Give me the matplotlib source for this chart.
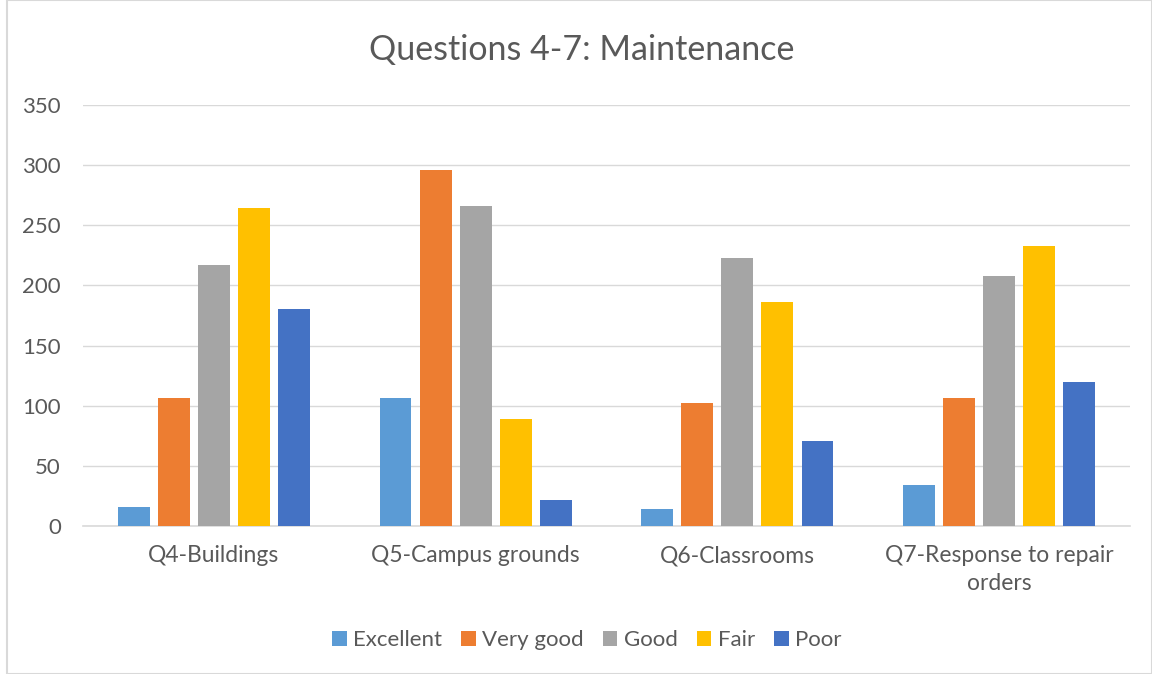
import numpy as np
import matplotlib.pyplot as plt
from matplotlib.patches import Rectangle

categories = ['Q4-Buildings', 'Q5-Campus grounds', 'Q6-Classrooms', 'Q7-Response to repair\norders']
series = ['Excellent', 'Very good', 'Good', 'Fair', 'Poor']
excellent = [16, 106, 14, 34]
very_good = [106, 296, 102, 106]
good = [217, 266, 223, 208]
fair = [264, 89, 186, 233]
poor = [180, 22, 71, 120]
colors = ['#5B9BD5', '#ED7D31', '#A5A5A5', '#FFC000', '#4472C4']

plt.rcParams['font.family'] = ['Lato', 'DejaVu Sans']
text_color = '#595959'

fig = plt.figure(figsize=(11.52, 6.74), dpi=100)
ax = fig.add_axes([83 / 1152, 1 - 526 / 674, (1130 - 83) / 1152, (526 - 105) / 674])

x = np.arange(len(categories))
step = 0.153
width = 0.122
values = [excellent, very_good, good, fair, poor]
for i, (name, vals, col) in enumerate(zip(series, values, colors)):
    ax.bar(x + (i - 2) * step, vals, width, color=col, label=name, zorder=3)

ax.set_xlim(-0.5, len(categories) - 0.5)
ax.set_ylim(0, 350)
ax.set_yticks(range(0, 351, 50))
ax.set_xticks(x)
ax.set_xticklabels(categories, fontsize=16.5, color=text_color, linespacing=1.4)
ax.tick_params(axis='y', labelsize=16, colors=text_color, length=0, pad=16)
ax.tick_params(axis='x', length=0, pad=14)
ax.grid(axis='y', color='#D9D9D9', linewidth=1, zorder=0)
for s in ['top', 'right', 'left']:
    ax.spines[s].set_visible(False)
ax.spines['bottom'].set_color('#D9D9D9')
ax.spines['bottom'].set_linewidth(1.2)

fig.text(582 / 1152, 1 - 50 / 674, 'Questions 4-7: Maintenance', ha='center', va='center',
         fontsize=24.5, color=text_color)

leg = fig.legend(loc='center', bbox_to_anchor=(587 / 1152, 1 - 640 / 674), ncol=5, frameon=False,
                 fontsize=16, handlelength=0.65, handleheight=0.65, handletextpad=0.3,
                 columnspacing=0.85)
for t in leg.get_texts():
    t.set_color(text_color)

fig.patches.append(Rectangle((7 / 1152, 0), 1 - 7 / 1152, 1, transform=fig.transFigure,
                             fill=False, edgecolor='#D9D9D9', linewidth=1.5))

fig.savefig('out.png', dpi=100)
